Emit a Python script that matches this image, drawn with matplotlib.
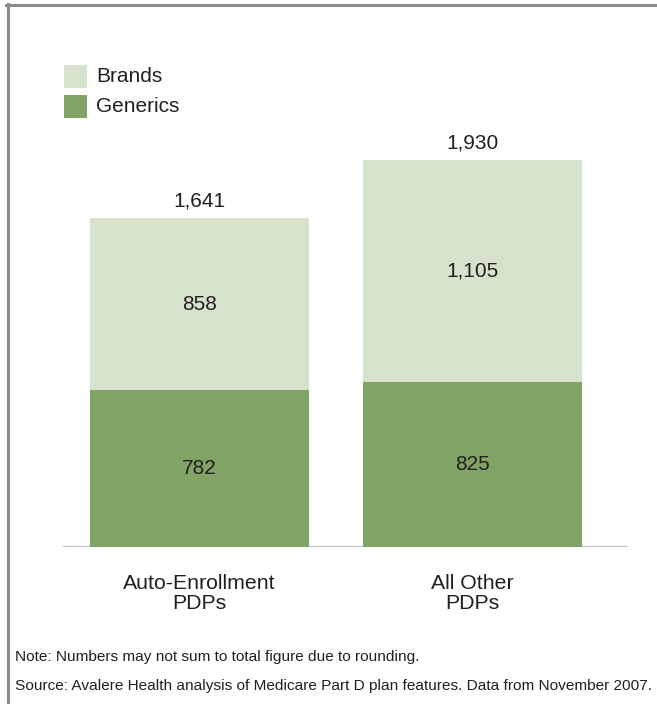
import matplotlib
matplotlib.use('Agg')
import matplotlib.pyplot as plt
from matplotlib.patches import Rectangle
from matplotlib.lines import Line2D

plt.rcParams['font.family'] = ['Liberation Sans', 'DejaVu Sans']

# --- data ---
categories = ['Auto-Enrollment\nPDPs', 'All Other\nPDPs']
generics = [782, 825]
brands = [858, 1105]
totals = [1641, 1930]

note_text = 'Note: Numbers may not sum to total figure due to rounding.'
source_text = ('Source: Avalere Health analysis of Medicare Part D plan features. '
               'Data from November 2007.')

# --- style ---
light_green = '#d7e2cc'
dark_green = '#82a366'
text_color = '#231f20'
base_color = '#c6c6c9'
border_color = '#8a8a8a'

W, H = 657, 704
fig = plt.figure(figsize=(W / 100, H / 100), dpi=100, facecolor='white')
renderer = fig.canvas.get_renderer()

def fx(px):
    return px / W

def fy(py):
    return 1 - py / H

def fit_width(txt, target_px):
    # shrink/grow a text so its rendered width matches the reference
    w = txt.get_window_extent(renderer=renderer).width
    txt.set_fontsize(txt.get_fontsize() * target_px / w)

# axes: baseline at y=547px, from x=63 to x=628
ax = fig.add_axes([fx(63), fy(547), fx(628) - fx(63), (547 - 100) / H])
ax.set_xlim(-0.5, 1.57)
ax.set_ylim(0, 447 / 0.2005)
ax.axis('off')

x = range(len(categories))
ax.bar(x, generics, width=0.802, color=dark_green, linewidth=0, zorder=2)
ax.bar(x, brands, width=0.802, bottom=generics, color=light_green, linewidth=0, zorder=2)
ax.axhline(0, color=base_color, linewidth=1.6, zorder=1)

for i in x:
    ax.text(i, generics[i] / 2, f'{generics[i]:,}', ha='center', va='center',
            fontsize=15, color=text_color)
    ax.text(i, generics[i] + brands[i] / 2, f'{brands[i]:,}', ha='center', va='center',
            fontsize=15, color=text_color)
    ax.text(i, totals[i] + 85, f'{totals[i]:,}', ha='center', va='center',
            fontsize=15, color=text_color)
    t = ax.annotate(categories[i], xy=(i, 0), xytext=(0, -33.5), textcoords='offset points',
                    ha='center', va='center', fontsize=15, color=text_color,
                    linespacing=1.12)
    if i == 0:
        fit_width(t, 153)
        cat_size = t.get_fontsize()
    else:
        t.set_fontsize(cat_size)

# legend
for label, color, cy in [('Brands', light_green, 76.5), ('Generics', dark_green, 106.5)]:
    fig.patches.append(Rectangle((fx(64), fy(cy + 11.5)), 23 / W, 23 / H,
                                 transform=fig.transFigure, color=color, linewidth=0))
    fig.text(fx(96), fy(cy), label, ha='left', va='center', fontsize=15,
             color=text_color)

# notes
src = fig.text(fx(15), fy(686), source_text, ha='left', va='center',
               fontsize=12, color=text_color)
fit_width(src, 636)
fig.text(fx(15), fy(657), note_text, ha='left', va='center',
         fontsize=src.get_fontsize(), color=text_color)

# frame (top and left border)
fig.add_artist(Line2D([fx(6), 1], [fy(5), fy(5)], transform=fig.transFigure,
                      color=border_color, linewidth=2.2))
fig.add_artist(Line2D([fx(7.5), fx(7.5)], [fy(4), 0], transform=fig.transFigure,
                      color=border_color, linewidth=2.2))

fig.savefig('out.png', dpi=100, facecolor='white')
